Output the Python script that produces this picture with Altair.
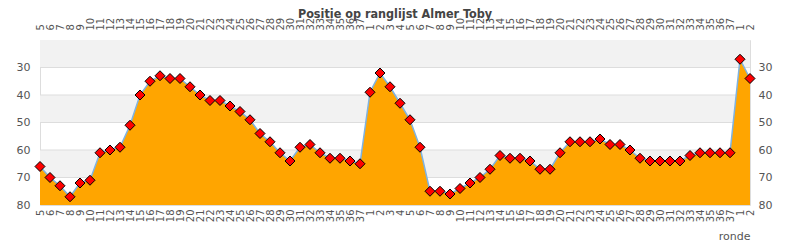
import json
import altair as alt
import pandas as pd

labels = ["5", "6", "7", "8", "9", "10", "11", "12", "13", "14", "15", "16", "17", "18", "19",
          "20", "21", "22", "23", "24", "25", "26", "27", "28", "29", "30", "31", "32", "33",
          "34", "35", "36", "37",
          "1", "2", "3", "4", "5", "6", "7", "8", "9", "10", "11", "12", "13", "14", "15", "16",
          "17", "18", "19", "20", "21", "22", "23", "24", "25", "26", "27", "28", "29", "30",
          "31", "32", "33", "34", "35", "36", "37",
          "1", "2"]
positions = [66, 70, 73, 77, 72, 71, 61, 60, 59, 51, 40, 35, 33, 34, 34, 37, 40, 42, 42, 44,
             46, 49, 54, 57, 61, 64, 59, 58, 61, 63, 63, 64, 65,
             39, 32, 37, 43, 49, 59, 75, 75, 76, 74, 72, 70, 67, 62, 63, 63, 64, 67, 67, 61,
             57, 57, 57, 56, 58, 58, 60, 63, 64, 64, 64, 64, 62, 61, 61, 61, 61,
             27, 34]
y_ticks = [30, 40, 50, 60, 70, 80]
grid_lines = [30, 40, 50, 60, 70]
band_lo = [20, 40, 60]
band_hi = [30, 50, 70]

n = len(labels)
df = pd.DataFrame({"idx": list(range(n)), "ronde": labels, "positie": positions})
bands = pd.DataFrame({"lo": band_lo, "hi": band_hi})
grid = pd.DataFrame({"g": grid_lines})

xscale = alt.Scale(domain=[0, n - 1], nice=False, zero=False)
yscale = alt.Scale(domain=[20, 80], reverse=True, nice=False, zero=False)
label_expr = json.dumps(labels) + "[datum.value]"

common_x = dict(values=list(range(n)), labelExpr=label_expr, labelAngle=270, labelFontSize=10,
                labelColor="#555555", labelFont="DejaVu Sans", ticks=False, domain=False,
                grid=False, labelOverlap=False)
x_bottom = alt.Axis(orient="bottom", labelPadding=4, title="ronde", titleAnchor="end",
                    titleFontWeight="normal", titleFontSize=11, titleColor="#555555",
                    titleFont="DejaVu Sans", titlePadding=9, **common_x)
x_top = alt.Axis(orient="top", labelPadding=10, title=None, **common_x)
common_y = dict(values=y_ticks, labelFontSize=11, labelColor="#555555", labelFont="DejaVu Sans",
                ticks=False, domain=False, grid=False, title=None)
y_left = alt.Axis(orient="left", labelPadding=10, **common_y)
y_right = alt.Axis(orient="right", labelPadding=8, **common_y)

band_layer = alt.Chart(bands).mark_rect(color="#F2F2F2").encode(
    x=alt.datum(0, scale=xscale, axis=None),
    x2=alt.datum(n - 1),
    y=alt.Y("lo:Q", scale=yscale, axis=None),
    y2="hi:Q",
)
grid_layer = alt.Chart(grid).mark_rule(color="#DDDDDD", strokeWidth=1).encode(
    y=alt.Y("g:Q", scale=yscale, axis=None),
)
area_layer = alt.Chart(df).mark_area(color="#FFA500", opacity=1).encode(
    x=alt.X("idx:Q", scale=xscale, axis=x_bottom),
    y=alt.Y("positie:Q", scale=yscale, axis=y_left),
    y2=alt.datum(80),
)
line_layer = alt.Chart(df).mark_line(color="#7EB3E3", strokeWidth=1.5).encode(
    x=alt.X("idx:Q", scale=xscale, axis=None),
    y=alt.Y("positie:Q", scale=yscale, axis=None),
)
point_layer = alt.Chart(df).mark_point(shape="diamond", filled=True, fill="#FF0000",
                                       stroke="#000000", strokeWidth=1, size=100,
                                       opacity=1).encode(
    x=alt.X("idx:Q", scale=xscale, axis=x_top),
    y=alt.Y("positie:Q", scale=yscale, axis=y_right),
)

chart = alt.layer(band_layer, grid_layer, area_layer, line_layer, point_layer).resolve_axis(
    x="independent", y="independent"
).properties(
    width=710,
    height=165,
    autosize=alt.AutoSizeParams(type="none"),
    padding={"left": 40, "top": 40, "right": 40, "bottom": 45},
    title=alt.TitleParams("Positie op ranglijst Almer Toby", font="DejaVu Sans Condensed",
                          fontSize=12.5, fontWeight="bold", color="#444444", anchor="middle",
                          dy=7),
).configure_view(stroke="#D9D9D9").configure(background="white")

chart.save("out.html", embed_options={"renderer": "svg", "actions": False})
